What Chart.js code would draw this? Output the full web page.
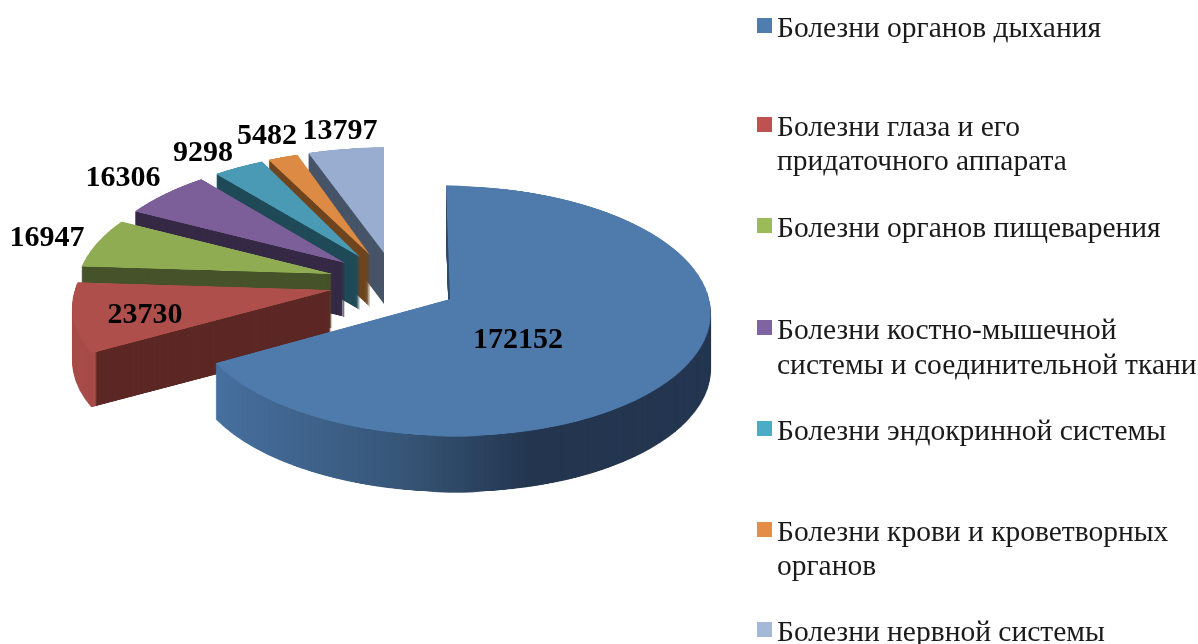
<!DOCTYPE html>
<html lang="ru">
<head>
<meta charset="utf-8">
<title>Болезни</title>
<script src="https://cdn.jsdelivr.net/npm/chart.js@4"></script>
<style>
  html, body { margin: 0; padding: 0; background: #fff; }
  canvas { display: block; filter: blur(0.5px); }
</style>
</head>
<body>
<canvas id="grafico" width="1198" height="644"></canvas>
<script>
const categorias = [
  ["Болезни органов дыхания"],
  ["Болезни глаза и его", "придаточного аппарата"],
  ["Болезни органов пищеварения"],
  ["Болезни костно-мышечной", "системы и соединительной ткани"],
  ["Болезни эндокринной системы"],
  ["Болезни крови и кроветворных", "органов"],
  ["Болезни нервной системы"]
]
const valores = [172152, 23730, 16947, 16306, 9298, 5482, 13797]

const coresFace = ["#4e7bac", "#ae4f4b", "#90ac53", "#7c5e99", "#4a9ab5", "#dd8a44", "#98adcf"]
const coresLegenda = ["#4f7db0", "#bd5250", "#9bbb59", "#8064a2", "#4bacc6", "#e58c45", "#a5b8d8"]

// paredes laterais: [x, cor] do gradiente horizontal
const paredes = [
  [[217, "#47709f"], [400, "#375678"], [530, "#24364f"], [710, "#243650"]],
  [[70, "#a74c48"], [95, "#a74c48"], [97, "#5c2724"], [340, "#5c2724"]],
  [[70, "#46532a"], [340, "#46532a"]],
  [[130, "#352945"], [350, "#352945"]],
  [[210, "#1f4a57"], [365, "#1f4a57"]],
  [[265, "#6e451f"], [375, "#6e451f"]],
  [[305, "#475468"], [390, "#475468"]]
]
const alturas = [56, 54, 54, 54, 53, 52, 51]

// explosao de cada fatia no plano do disco (em raios)
const explosaoU = [0, -0.4588, -0.4607, -0.417, -0.3592, -0.3197, -0.2642]
const explosaoV = [0, -0.0731, -0.2056, -0.2987, -0.35, -0.367, -0.3847]
// 1 = fatia converge com a perspectiva, 0 = anda em paralelo
const convergencia = [1, 1, 1, 1, 1, 0.5, 0]
const inclinacao = [0.035, 0, 0, 0, 0, 0, 0]

// camera: centro na tela, semi-eixos e perspectiva
const cam = { x: 450, y: 299, a: 259, b: 124, k: 0.096 }

const rotuloX = [518, 145, 47, 123, 203, 267, 340]
const rotuloY = [340, 315, 238, 178, 153, 136, 131]
const fonteRotulo = "bold 30px 'Liberation Serif'"

const legendaY = [[37], [136, 170], [237], [339, 374], [440], [541, 575], [641]]
const legendaX = 777
const fonteLegenda = "29.5px 'Liberation Serif'"

function novaTela(w, h) {
  const c = document.createElement("canvas")
  c.width = w
  c.height = h
  return c
}

// desenha o disco plano em perspectiva, linha por linha
function projetar(ctx, folha, R, i) {
  const u = explosaoU[i]
  const v = explosaoV[i]
  const t = convergencia[i]
  const m = folha.width / 2
  const xVertice = cam.x + cam.a * u / (1 - cam.k * v)
  for (let y = 0; y < 644; y++) {
    const dy = y - cam.y
    const v1 = dy / (cam.b + cam.k * dy)
    const v2 = (dy + 1) / (cam.b + cam.k * (dy + 1))
    const s1 = Math.max(v1 - v, -1)
    const s2 = Math.min(v2 - v, 1)
    if (s2 <= s1) continue
    const esc = 1 / (1 - cam.k * (v1 + v2) / 2)
    const w = cam.a * esc * (2 * m / R)
    const centro = xVertice * (1 - t) + (cam.x + cam.a * esc * u) * t + inclinacao[i] * dy
    ctx.drawImage(folha, 0, m + s1 * R, folha.width, (s2 - s1) * R, centro - w / 2, y, w, 1)
  }
}

const pizza3d = {
  id: "pizza3d",
  beforeDatasetDraw(chart) {
    const ctx = chart.ctx
    const arcos = chart.getDatasetMeta(0).data
    for (let i = arcos.length - 1; i >= 0; i--) {
      const arco = arcos[i]
      const R = arco.outerRadius
      const m = Math.ceil(R) + 2
      const folha = novaTela(2 * m, 2 * m)
      const fctx = folha.getContext("2d")
      fctx.translate(m - arco.x, m - arco.y)
      arco.draw(fctx)

      const topo = novaTela(1198, 644)
      const tctx = topo.getContext("2d")
      projetar(tctx, folha, R, i)

      const parede = novaTela(1198, 644)
      const pctx = parede.getContext("2d")
      pctx.drawImage(topo, 0, 0)
      pctx.globalCompositeOperation = "source-in"
      const grad = pctx.createLinearGradient(0, 0, 1198, 0)
      paredes[i].forEach((p) => grad.addColorStop(p[0] / 1198, p[1]))
      pctx.fillStyle = grad
      pctx.fillRect(0, 0, 1198, 644)

      for (let d = alturas[i]; d > 0; d--) ctx.drawImage(parede, 0, d)
      ctx.drawImage(topo, 0, 0)
    }
    return false
  },
  afterDraw(chart) {
    const ctx = chart.ctx
    ctx.save()
    ctx.fillStyle = "#000"
    ctx.textBaseline = "middle"
    ctx.textAlign = "center"
    ctx.font = fonteRotulo
    valores.forEach((v, i) => ctx.fillText(String(v), rotuloX[i], rotuloY[i]))

    ctx.textBaseline = "alphabetic"
    ctx.textAlign = "left"
    ctx.font = fonteLegenda
    categorias.forEach((linhas, i) => {
      ctx.fillStyle = coresLegenda[i]
      ctx.fillRect(legendaX - 20, legendaY[i][0] - 19, 15, 15)
      ctx.fillStyle = "#1a1a1a"
      linhas.forEach((t, j) => ctx.fillText(t, legendaX, legendaY[i][j]))
    })
    ctx.restore()
  }
}

new Chart(document.getElementById("grafico"), {
  type: "pie",
  data: {
    labels: categorias,
    datasets: [{ data: valores, backgroundColor: coresFace, borderWidth: 0 }]
  },
  options: {
    responsive: false,
    animation: false,
    events: [],
    plugins: { legend: { display: false }, tooltip: { enabled: false } }
  },
  plugins: [pizza3d]
})
</script>
</body>
</html>
